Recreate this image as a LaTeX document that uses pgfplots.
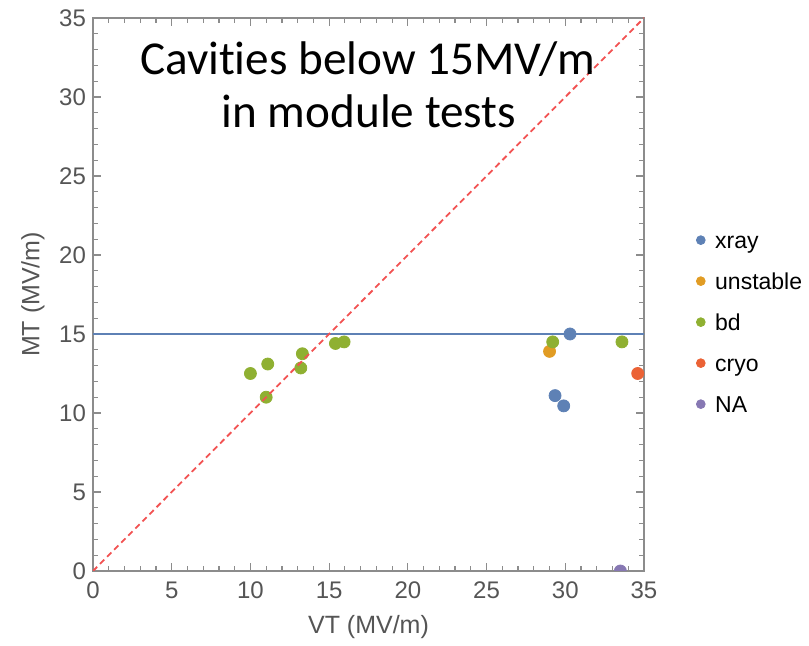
\documentclass[border=0pt]{standalone}
\usepackage{fontspec}
\setmainfont{Liberation Sans}
\newfontfamily\titlefont{Carlito}[Ligatures=NoCommon]
\usepackage{pgfplots}
\pgfplotsset{compat=1.18}
\definecolor{mxray}{HTML}{5E81B5}
\definecolor{munst}{HTML}{E19C24}
\definecolor{mbd}{HTML}{8FB032}
\definecolor{mcryo}{HTML}{EB6235}
\definecolor{mna}{HTML}{8778B3}
\definecolor{frm}{HTML}{8C8C8C}
\definecolor{lbl}{HTML}{555555}
\definecolor{diag}{HTML}{F25252}
\begin{document}
\begin{tikzpicture}
\useasboundingbox (-46.5pt,-37.5pt) rectangle (358pt,285.5pt);
\begin{axis}[
  width=275.5pt, height=276.5pt, scale only axis,
  xmin=0, xmax=35, ymin=0, ymax=35,
  xtick={0,5,...,35}, ytick={0,5,...,35},
  minor tick num=4,
  tick align=inside,
  clip marker paths=true,
  axis line style={frm, line width=0.8pt},
  every tick/.style={frm, line width=0.6pt},
  major tick length=4pt, minor tick length=2.5pt,
  /pgf/number format/assume math mode=true,
  tick label style={font=\fontsize{12}{14}\selectfont, text=lbl},
  x tick label style={yshift=-2pt},
  xlabel={VT (MV/m)}, ylabel={MT (MV/m)},
  label style={font=\fontsize{12.5}{15}\selectfont, text=lbl},
  xlabel style={at={(axis description cs:0.5,0)}, anchor=center, yshift=-28pt},
  ylabel style={at={(axis description cs:0,0.5)}, anchor=center, yshift=30pt},
  legend style={draw=none, fill=none, at={(1,0.45)}, anchor=west, xshift=26pt,
    inner sep=0pt, column sep=5pt, row sep=0pt,
    font=\fontsize{11.5}{13}\selectfont,
    nodes={inner sep=0pt, text height=14.5pt, text depth=6pt}},
  legend cell align=left,
  legend image code/.code={\draw[#1,mark size=2.2pt] plot coordinates {(0pt,0pt)};},
]
\addplot[only marks, mark=*, mark size=3pt, color=mxray]
  coordinates {(30.3,15.0) (29.35,11.1) (29.9,10.45)};
\addlegendentry{xray}
\addplot[only marks, mark=*, mark size=3pt, color=munst]
  coordinates {(29.0,13.9)};
\addlegendentry{unstable}
\addplot[only marks, mark=*, mark size=3pt, color=mbd]
  coordinates {(10.0,12.5) (11.1,13.1) (11.0,11.0) (13.3,13.75) (13.2,12.85)
               (15.4,14.4) (15.95,14.5) (29.2,14.5) (33.6,14.5)};
\addlegendentry{bd}
\addplot[only marks, mark=*, mark size=3pt, color=mcryo]
  coordinates {(34.6,12.5)};
\addlegendentry{cryo}
\addplot[only marks, mark=*, mark size=3pt, color=mna]
  coordinates {(33.5,0)};
\addlegendentry{NA}
\addplot[mxray, line width=0.6pt, forget plot] coordinates {(0,15) (35,15)};
\addplot[diag, line width=0.9pt, dash pattern=on 3pt off 2pt, forget plot]
  coordinates {(0,0) (35,35)};
\node[anchor=base, font=\titlefont\fontsize{23.6}{28}\selectfont, text=black]
  at (axis cs:17.44,31.4) {Cavities below 15MV/m};
\node[anchor=base, font=\titlefont\fontsize{23.6}{28}\selectfont, text=black]
  at (axis cs:17.53,28.04) {in module tests};
\end{axis}
\end{tikzpicture}
\end{document}
